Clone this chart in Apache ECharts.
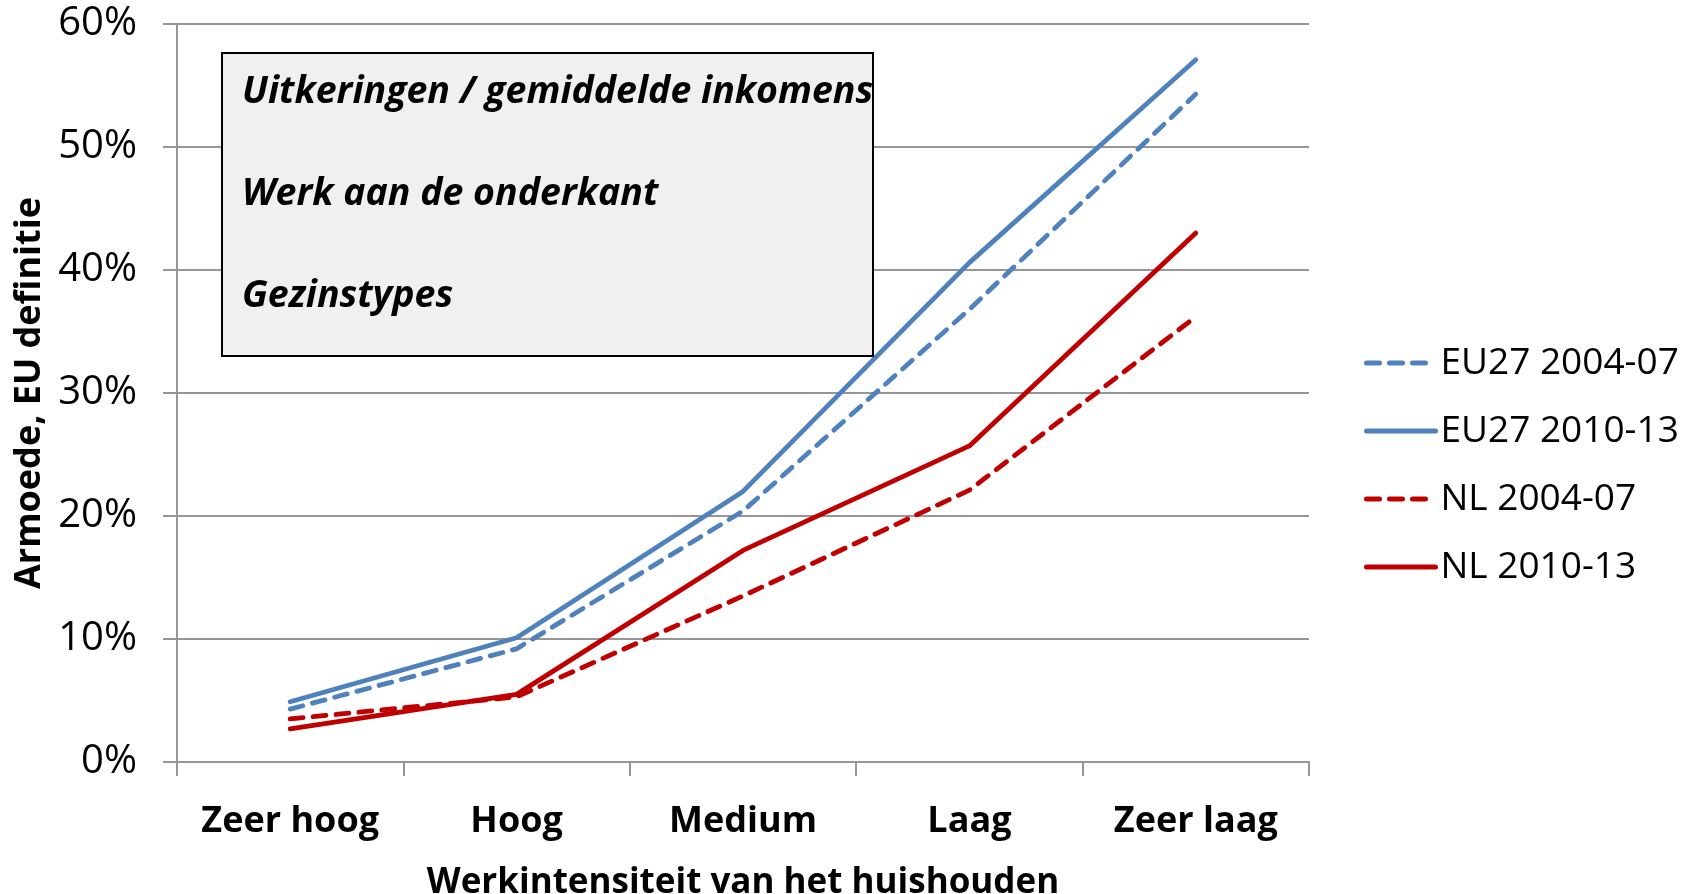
<!DOCTYPE html>
<html>
<head>
<meta charset="utf-8">
<script src="https://cdn.jsdelivr.net/npm/echarts@6/dist/echarts.min.js"></script>
<style>
  html, body { margin: 0; padding: 0; background: #fff; }
  #chart { width: 1694px; height: 894px; }
</style>
</head>
<body>
<div id="chart"></div>
<script>
// werkintensiteit categories
const categories = ['Zeer hoog', 'Hoog', 'Medium', 'Laag', 'Zeer laag'];

// armoede (fraction)
const eu0407 = [0.043, 0.092, 0.204, 0.368, 0.543];
const eu1013 = [0.049, 0.101, 0.220, 0.406, 0.571];
const nl0407 = [0.035, 0.053, 0.135, 0.221, 0.362];
const nl1013 = [0.027, 0.055, 0.172, 0.257, 0.430];

const boxLines = ['Uitkeringen / gemiddelde inkomens', 'Werk aan de onderkant', 'Gezinstypes'];

const BLUE = '#4F81BD';
const RED = '#C00000';
const GRID = '#969696';
const FONT = '"Open Sans", sans-serif';

const chart = echarts.init(document.getElementById('chart'));

function line(name, data, color, dashed) {
    return {
        name: name,
        type: 'line',
        data: data,
        symbol: 'none',
        color: color,
        lineStyle: {
            color: color,
            width: 4.8,
            type: dashed ? [13, 10] : 'solid',
            cap: 'round',
            join: 'round'
        },
        emphasis: { disabled: true },
        z: 3
    };
}

const options = {
    animation: false,
    textStyle: { fontFamily: FONT, color: '#000' },
    grid: { left: 177, right: 385, top: 24, bottom: 132, outerBoundsMode: 'none' },
    xAxis: {
        type: 'category',
        data: categories,
        boundaryGap: true,
        axisLine: { lineStyle: { color: GRID, width: 2 } },
        axisTick: { show: true, interval: 0, length: 14, lineStyle: { color: GRID, width: 2 } },
        axisLabel: { interval: 0, fontSize: 36, fontWeight: 'bold', color: '#000', margin: 42, fontFamily: FONT },
        name: 'Werkintensiteit van het huishouden',
        nameLocation: 'middle',
        nameGap: 104,
        nameTextStyle: { fontSize: 35, fontWeight: 'bold', color: '#000', fontFamily: FONT }
    },
    yAxis: {
        type: 'value',
        min: 0,
        max: 0.6,
        interval: 0.1,
        axisLine: { show: true, lineStyle: { color: GRID, width: 2 } },
        axisTick: { show: true, length: 14, lineStyle: { color: GRID, width: 2 } },
        splitLine: { lineStyle: { color: GRID, width: 2 } },
        axisLabel: {
            fontSize: 40,
            color: '#000',
            margin: 40,
            fontFamily: FONT,
            formatter: (v) => Math.round(v * 100) + '%'
        },
        name: 'Armoede, EU definitie',
        nameLocation: 'middle',
        nameRotate: 90,
        nameGap: 124,
        nameTextStyle: { fontSize: 36, fontWeight: 'bold', color: '#000', fontFamily: FONT }
    },
    legend: {
        orient: 'vertical',
        left: 1359,
        top: 339,
        itemWidth: 69,
        itemHeight: 14,
        itemGap: 30,
        itemStyle: { opacity: 0 },
        lineStyle: { width: 5 },
        data: ['EU27 2004-07', 'EU27 2010-13', 'NL 2004-07', 'NL 2010-13'],
        textStyle: { fontSize: 37, lineHeight: 38, color: '#000', fontFamily: FONT }
    },
    series: [
        line('EU27 2004-07', eu0407, BLUE, true),
        line('EU27 2010-13', eu1013, BLUE, false),
        line('NL 2004-07', nl0407, RED, true),
        line('NL 2010-13', nl1013, RED, false)
    ],
    graphic: [
        {
            type: 'rect',
            left: 221,
            top: 52,
            shape: { width: 651, height: 303 },
            style: { fill: '#F0F0F0', stroke: '#000', lineWidth: 2 },
            z: 10
        }
    ].concat(boxLines.map((t, i) => ({
        type: 'text',
        left: 242,
        top: 73 + i * 102,
        style: {
            text: t,
            font: 'italic bold 37.5px ' + FONT,
            fill: '#000'
        },
        z: 11
    })))
};

chart.setOption(options);
</script>
</body>
</html>
